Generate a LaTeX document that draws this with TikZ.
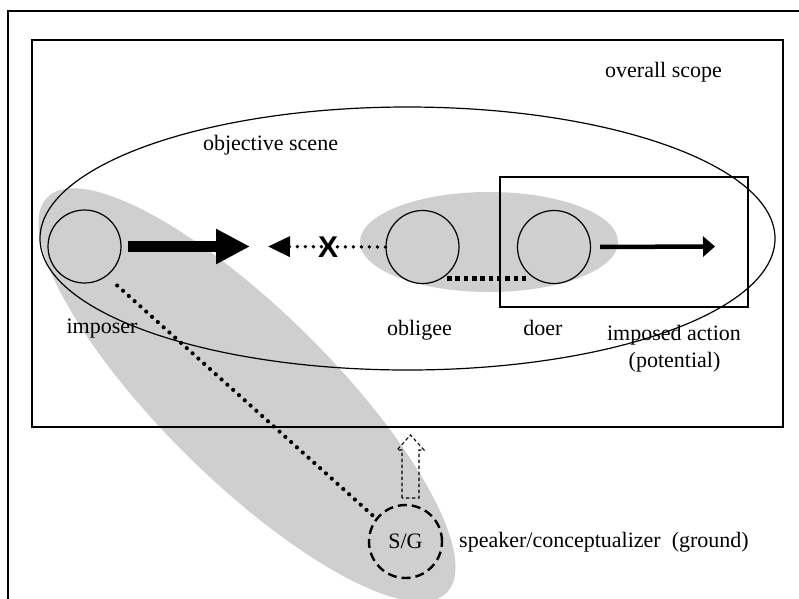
\documentclass[tikz,border=0pt]{standalone}
\usepackage{fontspec}
\setmainfont{Liberation Serif}
\newfontfamily\xfont{Liberation Sans}
\usetikzlibrary{arrows.meta,calc}
\definecolor{graybg}{RGB}{207,207,207}
\begin{document}
\begin{tikzpicture}[x=1pt,y=-1pt,
  font=\fontsize{22}{26}\selectfont,
  ent/.style={circle, draw, line width=1.2pt, minimum size=73pt, inner sep=0pt},
  sgc/.style={circle, draw, line width=2.4pt, dash pattern=on 9pt off 5pt, minimum size=73pt, inner sep=0pt},
  lbl/.style={anchor=base, inner sep=0pt},
  frame/.style={line width=1.4pt}]
\useasboundingbox (0,0) rectangle (799,598);
\begin{scope}
\clip (0,0) rectangle (799,598);
\fill[graybg, rotate around={-44.7:(247,395)}] (247,395) ellipse [x radius=281pt, y radius=85pt];
\fill[graybg] (489,242) ellipse [x radius=129pt, y radius=50pt];
\draw[line width=1.2pt] (8,610) -- (8,11) -- (810,11);
\end{scope}
\draw[frame] (32,40) rectangle (783,427);
\draw[line width=1.2pt] (407.5,238.5) ellipse [x radius=367.5pt, y radius=131.5pt];
\draw[frame] (500,177) rectangle (748,307);
% entities
\node[ent] (imp) at (84.5,246.5) {};
\node[ent] (obl) at (422.5,247) {};
\node[ent] (doer) at (554,247) {};
\node[sgc] (sg) at (405.5,541.5) {S/G};
% arrow end points
\coordinate (ta) at (250,246.5);
\coordinate (tb) at (268,246.5);
\coordinate (tc) at (715,246.5);
\coordinate (hb) at (410.5,498);
% connectors
\draw[line width=11pt, -{Triangle[length=34pt,width=33pt]}, shorten <=6pt] (imp.east) -- (ta);
\draw[line width=3.8pt, dash pattern=on 0pt off 8pt, line cap=round, -{Triangle[length=22pt,width=20pt]}] (obl.west) -- (tb);
\node[font=\xfont\bfseries\fontsize{30}{30}\selectfont, inner sep=0pt] (xm) at (328,247) {X};
\draw[line width=4.5pt, -{Triangle[length=12pt,width=20pt]}, shorten <=9pt] (doer.east) -- (tc);
\draw[line width=4.2pt, dash pattern=on 4.5pt off 3.8pt, shorten <=5pt, shorten >=7pt] (obl.-58) -- (doer.-122);
\draw[line width=4.2pt, dash pattern=on 0pt off 7.8pt, line cap=round, shorten <=14pt] (imp.-53) -- (sg.142);
\draw[line width=1.1pt, dash pattern=on 3.5pt off 2.5pt] ($(hb)+(-8.5,0)$) -- ++(0,-48) -- ++(-5,0) -- ($(hb)+(0,-63)$) -- ($(hb)+(13.5,-48)$) -- ++(-5,0) -- ($(hb)+(8.5,0)$) -- cycle;
% labels
\node[lbl] (l1) at (663.5,77) {overall scope};
\node[lbl] (l2) at (270.5,150) {objective scene};
\node[lbl] (l3) at (102,333) {imposer};
\node[lbl] (l4) at (419.5,335) {obligee};
\node[lbl] (l5) at (543,335) {doer};
\node[lbl] (l6) at (674,340) {imposed action};
\node[lbl] (l7) at (674.5,367) {(potential)};
\node[lbl, anchor=base west] (l8) at (459,547) {speaker/conceptualizer\ \ (ground)};
\end{tikzpicture}
\end{document}
